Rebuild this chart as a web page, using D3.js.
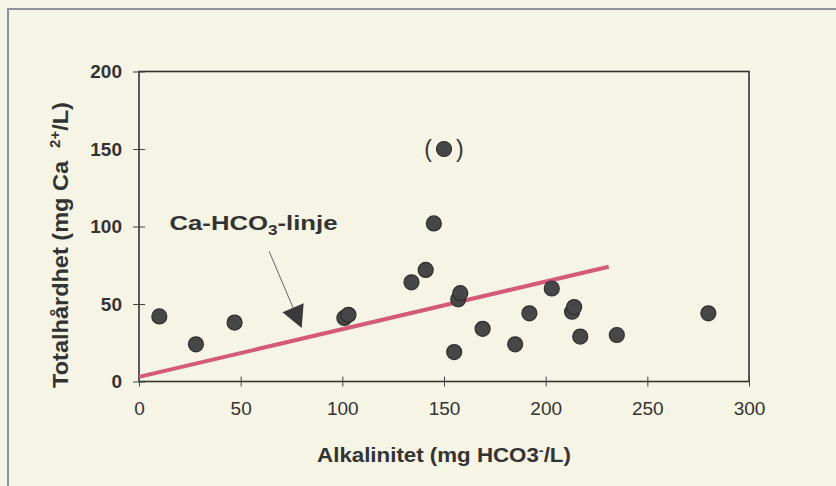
<!DOCTYPE html>
<html>
<head>
<meta charset="utf-8">
<script src="https://cdn.jsdelivr.net/npm/d3@7"></script>
<style>
  body { margin: 0; background: #f6f4e4; }
  svg { display: block; }
  text { font-family: "Liberation Sans", Arial, sans-serif; fill: #333; }
</style>
</head>
<body>
<svg id="chart" width="836" height="486"></svg>
<script>
// samples
const alkalinity = [10, 28, 47, 101, 103, 134, 141, 145, 150, 155, 157, 158, 169, 185, 192, 203, 213, 214, 217, 235, 280];
const hardness   = [42, 24, 38, 41, 43, 64, 72, 102, 150, 19, 53, 57, 34, 24, 44, 60, 45, 48, 29, 30, 44];
const bracketed = [150]; // alkalinity of the point shown in parentheses

const xTicks = [0, 50, 100, 150, 200, 250, 300];
const yTicks = [0, 50, 100, 150, 200];

// Ca-HCO3 line
const lineX = [0, 231];
const lineY = [3, 74];

// annotation anchors in data units
const labelAt = [15, 98];
const arrowFrom = [64, 84];
const arrowTo = [80, 34.5];

const svg = d3.select('#chart');

const x = d3.scaleLinear().domain([0, 300]).range([139, 749]);
const y = d3.scaleLinear().domain([0, 200]).range([381.5, 71.5]);

// outer page frame (left + top edges of the scanned box)
svg.append('line').attr('x1', 8).attr('x2', 8).attr('y1', 8).attr('y2', 486)
  .attr('stroke', '#8f93a0').attr('stroke-width', 2);
svg.append('line').attr('x1', 8).attr('x2', 836).attr('y1', 9).attr('y2', 9)
  .attr('stroke', '#8f93a0').attr('stroke-width', 2);

// stretch a text node horizontally to a target width
function fitWidth(sel, w, ax, ay) {
  const bb = sel.node().getBBox();
  const k = w / bb.width;
  sel.attr('transform', `translate(${ax},${ay}) scale(${k},1) translate(${-ax},${-ay})`);
}

// plot box
svg.append('rect')
  .attr('x', x(0)).attr('y', y(200))
  .attr('width', x(300) - x(0)).attr('height', y(0) - y(200))
  .attr('fill', 'none').attr('stroke', '#333').attr('stroke-width', 1.6);

// x axis
const gx = svg.append('g').attr('transform', `translate(0,${y(0)})`)
  .call(d3.axisBottom(x).tickValues(xTicks).tickSize(5));
gx.select('.domain').remove();
gx.selectAll('.tick line').attr('y1', -5).attr('y2', 5).attr('stroke', '#444');
gx.selectAll('.tick text').attr('y', 20).attr('dy', '0.71em')
  .style('font-size', '19px').style('font-family', '"Liberation Sans", Arial, sans-serif').attr('fill', '#333');

// y axis
const gy = svg.append('g').attr('transform', `translate(${x(0)},0)`)
  .call(d3.axisLeft(y).tickValues(yTicks).tickSize(6));
gy.select('.domain').remove();
gy.selectAll('.tick line').attr('x1', -6).attr('x2', 6).attr('stroke', '#444');
gy.selectAll('.tick text').attr('x', -17)
  .style('font-size', '19px').style('font-weight', 'bold')
  .style('font-family', '"Liberation Sans", Arial, sans-serif').attr('fill', '#333');

// Ca-HCO3 line
svg.append('line')
  .attr('x1', x(lineX[0])).attr('y1', y(lineY[0]))
  .attr('x2', x(lineX[1])).attr('y2', y(lineY[1]))
  .attr('stroke', '#d45a7a').attr('stroke-width', 4);

// points
const pts = alkalinity.map((a, i) => ({ a, h: hardness[i] }));
svg.append('g').selectAll('circle').data(pts).join('circle')
  .attr('cx', d => x(d.a)).attr('cy', d => y(d.h)).attr('r', 7.5)
  .attr('fill', '#474747').attr('stroke', '#2e2e2e').attr('stroke-width', 1.2);

// parentheses around the questionable point
pts.filter(d => bracketed.includes(d.a)).forEach(d => {
  svg.append('text').attr('x', x(d.a) - 12).attr('y', y(d.h) + 8)
    .attr('text-anchor', 'end').style('font-size', '23px').attr('fill', '#555').text('(');
  svg.append('text').attr('x', x(d.a) + 12).attr('y', y(d.h) + 8)
    .attr('text-anchor', 'start').style('font-size', '23px').attr('fill', '#555').text(')');
});

// label
const lbl = svg.append('text').attr('x', x(labelAt[0])).attr('y', y(labelAt[1]))
  .style('font-size', '21px').style('font-weight', 'bold');
lbl.append('tspan').text('Ca-HCO');
lbl.append('tspan').attr('dy', 5).style('font-size', '14px').text('3');
lbl.append('tspan').attr('dy', -5).text('-linje');
fitWidth(lbl, 168, x(labelAt[0]), y(labelAt[1]));

// arrow
const p0 = [x(arrowFrom[0]), y(arrowFrom[1])];
const p1 = [x(arrowTo[0]), y(arrowTo[1])];
const len = Math.hypot(p1[0] - p0[0], p1[1] - p0[1]);
const ux = (p1[0] - p0[0]) / len, uy = (p1[1] - p0[1]) / len;
const headLen = 22, headHalf = 11.5;
const bx = p1[0] - headLen * ux, by = p1[1] - headLen * uy;
svg.append('line').attr('x1', p0[0]).attr('y1', p0[1]).attr('x2', bx).attr('y2', by)
  .attr('stroke', '#666').attr('stroke-width', 1);
svg.append('path')
  .attr('d', `M${p1[0]},${p1[1]}L${bx - headHalf * uy},${by + headHalf * ux}L${bx + headHalf * uy},${by - headHalf * ux}Z`)
  .attr('fill', '#3a3a3a');

// x title
const xt = svg.append('text').attr('x', 444).attr('y', 462).attr('text-anchor', 'middle')
  .style('font-size', '20px').style('font-weight', 'bold');
xt.append('tspan').text('Alkalinitet (mg HCO3');
xt.append('tspan').attr('dy', -7).style('font-size', '13px').text('-');
xt.append('tspan').attr('dy', 7).text('/L)');
fitWidth(xt, 254, 444, 462);

// y title
const yc = -245, ybase = 68;
const yt = svg.append('text').attr('transform', 'rotate(-90)')
  .attr('x', yc).attr('y', ybase).attr('text-anchor', 'middle')
  .style('font-size', '22px').style('font-weight', 'bold');
yt.append('tspan').text('Totalhårdhet (mg Ca\u00a0\u00a0');
yt.append('tspan').attr('dy', -8).style('font-size', '14px').text('2+');
yt.append('tspan').attr('dy', 8).text('/L)');
{
  const bb = yt.node().getBBox();
  const k = 286 / bb.width;
  yt.attr('transform', `rotate(-90) translate(${yc},${ybase}) scale(${k},1) translate(${-yc},${-ybase})`);
}
</script>
</body>
</html>
